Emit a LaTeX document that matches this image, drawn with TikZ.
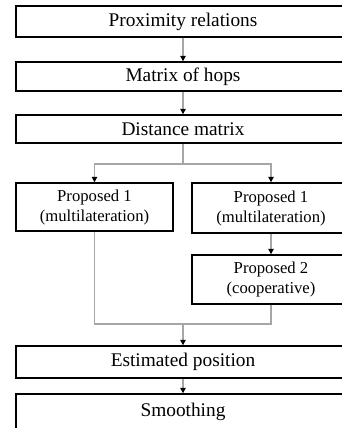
\documentclass[tikz,border=0pt]{standalone}
\usepackage{fontspec}
\setmainfont{Liberation Serif}
\usetikzlibrary{arrows.meta}

\begin{document}
\begin{tikzpicture}[x=0.75pt, y=-0.75pt,
  stage/.style={draw, line width=1.1pt, minimum width=334*0.75pt, inner sep=0pt,
    font=\fontsize{14.5}{16}\selectfont},
  method/.style={draw, line width=1.1pt, minimum width=157*0.75pt, inner sep=0pt,
    align=center, font=\fontsize{12.5}{15}\selectfont},
  link/.style={draw=gray!70, line width=0.8pt},
  flow/.style={link, -{Triangle[black, length=4pt, width=4pt]}}]
\clip (0,0) rectangle (342,428);
\fill[white] (0,0) rectangle (342,428);
% main chain
\node[stage, minimum height=31*0.75pt] (prox) at (183,21.5) {Proximity relations};
\node[stage, minimum height=29*0.75pt] (hops) at (183,76.5) {Matrix of hops};
\node[stage, minimum height=28*0.75pt] (dist) at (183,129) {Distance matrix};
% the two branches
\node[method, minimum height=48*0.75pt] (multiA) at (94.5,207) {Proposed 1\\(multilateration)};
\node[method, minimum height=50*0.75pt, minimum width=158*0.75pt] (multiB) at (271,208) {Proposed 1\\(multilateration)};
\node[method, minimum height=49*0.75pt, minimum width=158*0.75pt] (coop) at (271,279.5) {Proposed 2\\(cooperative)};
\node[stage, minimum height=32*0.75pt] (est) at (183,362) {Estimated position};
\node[stage, minimum height=36*0.75pt] (smooth) at (183,412) {Smoothing};
\coordinate (split) at (183,164);
\coordinate (merge) at (183,324);

\draw[flow] (prox) -- (hops);
\draw[flow] (hops) -- (dist);
\draw[link] (dist) -- (split);
\draw[flow] (split) -| (multiA);
\draw[flow] (split) -| (multiB);
\draw[flow] (multiB) -- (coop);
\draw[link] (multiA) |- (merge);
\draw[link] (coop) |- (merge);
\draw[flow] (merge) -- (est);
\draw[flow] (est) -- (smooth);
\end{tikzpicture}
\end{document}
